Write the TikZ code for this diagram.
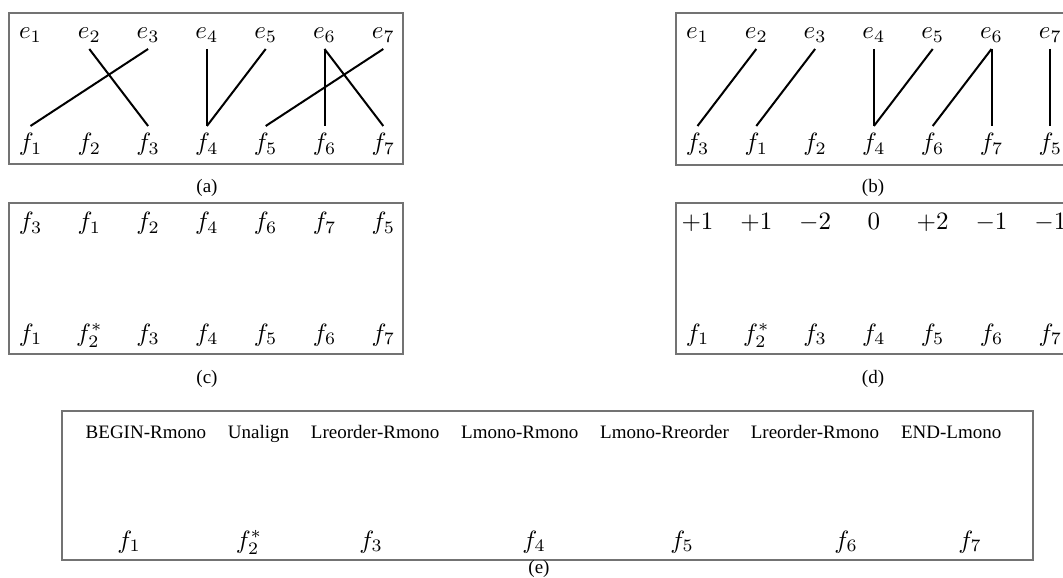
\documentclass[tikz,border=0pt]{standalone}
\usepackage{fontspec}
\newfontfamily\tnr{Liberation Serif}
\begin{document}
\begin{tikzpicture}[x=0.4pt,y=-0.4pt,
  frame/.style={draw=black!55,line width=0.7pt},
  link/.style={draw=black,line width=0.8pt},
  mrow/.style={anchor=base,inner sep=0pt,text height=7pt,text depth=1.6pt,font=\fontsize{10}{12}\selectfont},
  toprow/.style={mrow,outer sep=2.4pt},
  botrow/.style={mrow,outer sep=3pt},
  captxt/.style={anchor=base,inner sep=0pt,font=\tnr\fontsize{7.6}{9}\selectfont}]
\useasboundingbox (0,0) rectangle (1063,578);
% frames
\draw[frame] (9,13) rectangle (403,164);
\draw[frame] (676,13) rectangle (1070,165);
\draw[frame] (9,203) rectangle (403,354);
\draw[frame] (676,203) rectangle (1070,354);
\draw[frame] (62,411) rectangle (1033,560);
% (a)
\foreach \i in {1,...,7} {
  \node[toprow] (a-e\i) at ({30.5+58.8*(\i-1)},39) {$e_{\i}$};
  \node[botrow] (a-f\i) at ({30.5+58.8*(\i-1)},151) {$f_{\i}$};
}
\draw[link] (a-e2.south) -- (a-f3.north);
\draw[link] (a-e3.south) -- (a-f1.north);
\draw[link] (a-e4.south) -- (a-f4.north);
\draw[link] (a-e5.south) -- (a-f4.north);
\draw[link] (a-e6.south) -- (a-f6.north);
\draw[link] (a-e6.south) -- (a-f7.north);
\draw[link] (a-e7.south) -- (a-f5.north);
\node[captxt] (capa) at (207,193) {(a)};
% (b)
\foreach \i in {1,...,7} {
  \node[toprow] (b-e\i) at ({697.5+58.8*(\i-1)},39) {$e_{\i}$};
}
\foreach \p/\j in {1/3,2/1,3/2,4/4,5/6,6/7,7/5} {
  \node[botrow] (b-f\j) at ({697.5+58.8*(\p-1)},151) {$f_{\j}$};
}
\draw[link] (b-e2.south) -- (b-f3.north);
\draw[link] (b-e3.south) -- (b-f1.north);
\draw[link] (b-e4.south) -- (b-f4.north);
\draw[link] (b-e5.south) -- (b-f4.north);
\draw[link] (b-e6.south) -- (b-f6.north);
\draw[link] (b-e6.south) -- (b-f7.north);
\draw[link] (b-e7.south) -- (b-f5.north);
\node[captxt] (capb) at (873,193) {(b)};
% (c)
\foreach \p/\j in {1/3,2/1,3/2,4/4,5/6,6/7,7/5} {
  \node[mrow] (c-t\j) at ({30.5+58.8*(\p-1)},230) {$f_{\j}$};
}
\foreach \p/\t in {1/{f_1},2/{f_2^*},3/{f_3},4/{f_4},5/{f_5},6/{f_6},7/{f_7}} {
  \node[mrow] (c-b\p) at ({30.5+58.8*(\p-1)},341) {$\t$};
}
\node[captxt] (capc) at (207,383) {(c)};
% (d)
\foreach \p/\t in {1/{+1},2/{+1},3/{-2},4/{0},5/{+2},6/{-1},7/{-1}} {
  \node[mrow] (d-t\p) at ({697.5+58.8*(\p-1)},230) {$\t$};
}
\foreach \p/\t in {1/{f_1},2/{f_2^*},3/{f_3},4/{f_4},5/{f_5},6/{f_6},7/{f_7}} {
  \node[mrow] (d-b\p) at ({697.5+58.8*(\p-1)},341) {$\t$};
}
\node[captxt] (capd) at (873,383) {(d)};
% (e)
\node[captxt] (e-top) at (543.5,438) {BEGIN-Rmono\hspace{1.15em}Unalign\hspace{1.15em}Lreorder-Rmono\hspace{1.15em}Lmono-Rmono\hspace{1.15em}Lmono-Rreorder\hspace{1.15em}Lreorder-Rmono\hspace{1.15em}END-Lmono};
\foreach \x/\t [count=\p] in {129/{f_1},249/{f_2^*},371/{f_3},534/{f_4},682/{f_5},846/{f_6},970/{f_7}} {
  \node[mrow] (e-b\p) at (\x,548) {$\t$};
}
\node[captxt] (cape) at (539,573) {(e)};
\end{tikzpicture}
\end{document}
